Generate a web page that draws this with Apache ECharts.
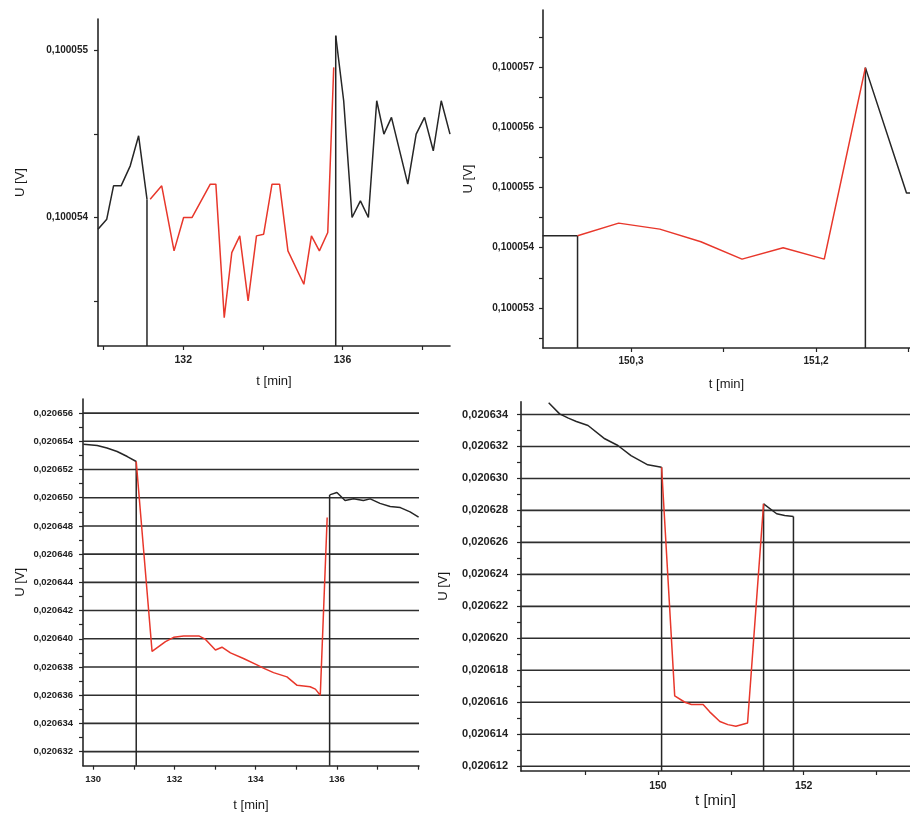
<!DOCTYPE html>
<html>
<head>
<meta charset="utf-8">
<script src="https://cdn.jsdelivr.net/npm/echarts@6/dist/echarts.min.js"></script>
<style>
  html, body { margin: 0; padding: 0; background: #ffffff; }
  #chart { width: 910px; height: 817px; }
</style>
</head>
<body>
<div id="chart"></div>
<script>
// ---- Panel A: 0.1 V channel, run around 130-138 min ----
const aTimeBefore = [129.86, 130.08, 130.25, 130.44, 130.67, 130.88, 131.09];
const aVoltBefore = [0.10005393, 0.10005399, 0.10005419, 0.10005419, 0.10005431, 0.10005449, 0.10005411];
const aTimeLoad = [131.17, 131.46, 131.77, 132.01, 132.22, 132.68, 132.82, 133.03, 133.22, 133.42, 133.63,
                   133.84, 134.02, 134.23, 134.42, 134.63, 135.03, 135.22, 135.42, 135.63, 135.78];
const aVoltLoad = [0.10005411, 0.10005419, 0.10005380, 0.10005400, 0.10005400, 0.10005420, 0.10005420,
                   0.10005340, 0.10005379, 0.10005389, 0.10005350, 0.10005389, 0.10005390, 0.10005420,
                   0.10005420, 0.10005380, 0.10005360, 0.10005389, 0.10005380, 0.10005391, 0.10005490];
const aTimeAfter = [135.83, 136.03, 136.24, 136.45, 136.65, 136.86, 137.04, 137.23, 137.64, 137.85, 138.06, 138.28, 138.48, 138.70];
const aVoltAfter = [0.10005509, 0.10005470, 0.10005400, 0.10005410, 0.10005400, 0.10005470, 0.10005450,
                    0.10005460, 0.10005420, 0.10005450, 0.10005460, 0.10005440, 0.10005470, 0.10005450];
const aSwitchTimes = [131.09, 135.83];
const aSwitchVolts = [0.10005411, 0.10005509];
const aXTicks = [130, 132, 134, 136, 138];
const aXLabels = [132, 136];
const aYTicks = [0.1000535, 0.100054, 0.1000545, 0.100055];
const aYLabels = [0.100054, 0.100055];

// ---- Panel B: 0.1 V channel, run around 150-151.6 min ----
const bTimeBefore = [149.87, 150.04];
const bVoltBefore = [0.1000542, 0.1000542];
const bTimeLoad = [150.04, 150.24, 150.44, 150.64, 150.84, 151.04, 151.24, 151.44];
const bVoltLoad = [0.1000542, 0.10005441, 0.10005431, 0.1000541, 0.10005381, 0.100054, 0.10005381, 0.100057];
const bTimeAfter = [151.44, 151.64, 151.66];
const bVoltAfter = [0.100057, 0.10005491, 0.10005491];
const bSwitchTimes = [150.04, 151.44];
const bSwitchVolts = [0.1000542, 0.100057];
const bXTicks = [150.3, 150.75, 151.2, 151.65];
const bXLabels = [150.3, 151.2];
const bYTicks = [0.1000525, 0.100053, 0.1000535, 0.100054, 0.1000545, 0.100055, 0.1000555, 0.100056, 0.1000565, 0.100057, 0.1000575];
const bYLabels = [0.100053, 0.100054, 0.100055, 0.100056, 0.100057];

// ---- Panel C: 0.02 V channel, run around 130-138 min ----
const cTimeBefore = [129.76, 130.10, 130.34, 130.59, 130.84, 131.06];
const cVoltBefore = [0.0206538, 0.0206537, 0.02065352, 0.02065328, 0.02065292, 0.02065257];
const cTimeLoad = [131.06, 131.45, 131.78, 131.98, 132.23, 132.60, 132.76, 133.01, 133.17, 133.38,
                   133.70, 134.07, 134.19, 134.44, 134.77, 135.02, 135.34, 135.47, 135.59, 135.76];
const cVoltLoad = [0.02065257, 0.0206391, 0.0206398, 0.0206401, 0.0206402, 0.0206402, 0.02063997,
                   0.0206392, 0.0206394, 0.0206390, 0.0206386, 0.0206381, 0.02063792, 0.0206376,
                   0.0206373, 0.0206367, 0.0206366, 0.02063643, 0.0206360, 0.0206486];
const cTimeAfter = [135.82, 136.00, 136.20, 136.41, 136.65, 136.82, 137.06, 137.31, 137.56, 137.80, 138.01];
const cVoltAfter = [0.0206502, 0.02065037, 0.0206498, 0.02064992, 0.0206498, 0.02064992,
                    0.0206496, 0.02064938, 0.0206493, 0.0206490, 0.02064862];
const cSwitchTimes = [131.06, 135.82];
const cSwitchVolts = [0.02065257, 0.0206502];
const cXTicks = [130, 131, 132, 133, 134, 135, 136, 137, 138];
const cXLabels = [130, 132, 134, 136];
const cYTicks = [0.020632, 0.020633, 0.020634, 0.020635, 0.020636, 0.020637, 0.020638, 0.020639, 0.020640,
                 0.020641, 0.020642, 0.020643, 0.020644, 0.020645, 0.020646, 0.020647, 0.020648, 0.020649,
                 0.020650, 0.020651, 0.020652, 0.020653, 0.020654, 0.020655, 0.020656];
const cYLabels = [0.020632, 0.020634, 0.020636, 0.020638, 0.020640, 0.020642, 0.020644,
                  0.020646, 0.020648, 0.020650, 0.020652, 0.020654, 0.020656];

// ---- Panel D: 0.02 V channel, run around 150-152 min ----
const dTimeBefore = [148.50, 148.65, 148.77, 148.88, 149.04, 149.27, 149.45, 149.63, 149.86, 150.05];
const dVoltBefore = [0.02063473, 0.02063404, 0.02063377, 0.02063356, 0.02063331, 0.02063248,
                     0.02063206, 0.02063143, 0.02063085, 0.0206307];
const dTimeLoad = [150.05, 150.23, 150.37, 150.46, 150.62, 150.71, 150.85, 150.96, 151.07, 151.23, 151.45];
const dVoltLoad = [0.0206307, 0.0206164, 0.0206160, 0.02061586, 0.02061586, 0.0206154, 0.0206148,
                   0.0206146, 0.0206145, 0.0206147, 0.02062841];
const dTimeAfter = [151.45, 151.63, 151.74, 151.86];
const dVoltAfter = [0.02062841, 0.02062779, 0.02062768, 0.02062762];
const dSwitchTimes = [150.05, 151.45, 151.86];
const dSwitchVolts = [0.0206307, 0.02062841, 0.02062762];
const dXTicks = [149, 150, 151, 152, 153];
const dXLabels = [150, 152];
const dYTicks = [0.020612, 0.020613, 0.020614, 0.020615, 0.020616, 0.020617, 0.020618, 0.020619, 0.020620,
                 0.020621, 0.020622, 0.020623, 0.020624, 0.020625, 0.020626, 0.020627, 0.020628, 0.020629,
                 0.020630, 0.020631, 0.020632, 0.020633, 0.020634];
const dYLabels = [0.020612, 0.020614, 0.020616, 0.020618, 0.020620, 0.020622, 0.020624,
                  0.020626, 0.020628, 0.020630, 0.020632, 0.020634];

const INK = '#262626';
const RED = '#e8372b';
const FONT = '"Liberation Sans", Arial, sans-serif';

const fmtVolt = v => v.toFixed(6).replace('.', ',');
const fmtInt = v => String(Math.round(v));
const fmtTenth = v => v.toFixed(1).replace('.', ',');

const panels = [
  {
    grid: { left: 98, top: 19, width: 352, height: 327 },
    x: { min: 129.86, max: 138.70, ticks: aXTicks, labels: aXLabels, fmt: fmtInt, size: 10.5, margin: 9, nameGap: 29, nameSize: 13 },
    y: { min: 0.10005323, max: 0.10005519, ticks: aYTicks, labels: aYLabels, size: 10, margin: 10, nameGap: 71, nameSize: 13 },
    before: [aTimeBefore, aVoltBefore], load: [aTimeLoad, aVoltLoad], after: [aTimeAfter, aVoltAfter],
    switches: [aSwitchTimes, aSwitchVolts], gridValues: null
  },
  {
    grid: { left: 543, top: 10, width: 367, height: 338 },
    x: { min: 149.872, max: 151.657, ticks: bXTicks, labels: bXLabels, fmt: fmtTenth, size: 10, margin: 8, nameGap: 30, nameSize: 13 },
    y: { min: 0.10005233, max: 0.10005796, ticks: bYTicks, labels: bYLabels, size: 10, margin: 9, nameGap: 68, nameSize: 13 },
    before: [bTimeBefore, bVoltBefore], load: [bTimeLoad, bVoltLoad], after: [bTimeAfter, bVoltAfter],
    switches: [bSwitchTimes, bSwitchVolts], gridValues: null
  },
  {
    grid: { left: 83, top: 399, width: 336, height: 366.7 },
    x: { min: 129.75, max: 138.02, ticks: cXTicks, labels: cXLabels, fmt: fmtInt, size: 9.5, margin: 9, nameGap: 33, nameSize: 13 },
    y: { min: 0.020631, max: 0.020657, ticks: cYTicks, labels: cYLabels, size: 9.5, margin: 10, nameGap: 56, nameSize: 13 },
    before: [cTimeBefore, cVoltBefore], load: [cTimeLoad, cVoltLoad], after: [cTimeAfter, cVoltAfter],
    switches: [cSwitchTimes, cSwitchVolts], gridValues: cYLabels
  },
  {
    grid: { left: 521, top: 401.7, width: 389, height: 369.3 },
    x: { min: 148.12, max: 153.46, ticks: dXTicks, labels: dXLabels, fmt: fmtInt, size: 10.5, margin: 10, nameGap: 21, nameSize: 15 },
    y: { min: 0.0206117, max: 0.0206348, ticks: dYTicks, labels: dYLabels, size: 11, margin: 13, nameGap: 71, nameSize: 13 },
    before: [dTimeBefore, dVoltBefore], load: [dTimeLoad, dVoltLoad], after: [dTimeAfter, dVoltAfter],
    switches: [dSwitchTimes, dSwitchVolts], gridValues: dYLabels
  }
];

const pairs = (ts, vs) => ts.map((t, i) => [t, vs[i]]);

const grids = [], xAxes = [], yAxes = [], series = [];

panels.forEach((p, i) => {
  grids.push(Object.assign({ containLabel: false }, p.grid));

  xAxes.push({
    type: 'value', gridIndex: i, min: p.x.min, max: p.x.max,
    name: 't [min]', nameLocation: 'middle', nameGap: p.x.nameGap,
    nameTextStyle: { color: '#1a1a1a', fontSize: p.x.nameSize, fontFamily: FONT },
    axisLine: { show: true, onZero: false, lineStyle: { color: INK, width: 1.6 } },
    axisTick: { show: true, length: 4, customValues: p.x.ticks, lineStyle: { color: INK, width: 1.2 } },
    axisLabel: { customValues: p.x.labels, formatter: p.x.fmt, color: '#222', fontSize: p.x.size,
                 fontWeight: 'bold', fontFamily: FONT, margin: p.x.margin },
    splitLine: { show: false }
  });

  yAxes.push({
    type: 'value', gridIndex: i, min: p.y.min, max: p.y.max,
    name: 'U [V]', nameLocation: 'middle', nameRotate: 90, nameGap: p.y.nameGap,
    nameTextStyle: { color: '#1a1a1a', fontSize: p.y.nameSize, fontFamily: FONT },
    axisLine: { show: true, onZero: false, lineStyle: { color: INK, width: 1.6 } },
    axisTick: { show: true, length: 4, customValues: p.y.ticks, lineStyle: { color: INK, width: 1.2 } },
    axisLabel: { customValues: p.y.labels, formatter: fmtVolt, color: '#222', fontSize: p.y.size,
                 fontWeight: 'bold', fontFamily: FONT, margin: p.y.margin },
    splitLine: { show: false }
  });

  const base = { type: 'line', xAxisIndex: i, yAxisIndex: i, symbol: 'none', silent: true,
                 animation: false, clip: true };

  // Horizontal reference lines at the labelled voltages, across the whole time span
  if (p.gridValues) {
    p.gridValues.forEach(v => {
      series.push(Object.assign({}, base, {
        data: [[p.x.min, v], [p.x.max, v]], z: 1,
        lineStyle: { color: '#2e2e2e', width: 1.6 }
      }));
    });
  }

  // Switching instants: vertical strokes from the time axis up to the reading
  p.switches[0].forEach((t, k) => {
    series.push(Object.assign({}, base, {
      data: [[t, p.y.min], [t, p.switches[1][k]]], z: 2,
      lineStyle: { color: INK, width: 1.5 }
    }));
  });

  series.push(Object.assign({}, base, {
    data: pairs(p.before[0], p.before[1]), z: 3, lineStyle: { color: INK, width: 1.5 }
  }));
  series.push(Object.assign({}, base, {
    data: pairs(p.after[0], p.after[1]), z: 3, lineStyle: { color: INK, width: 1.5 }
  }));
  series.push(Object.assign({}, base, {
    data: pairs(p.load[0], p.load[1]), z: 4, lineStyle: { color: RED, width: 1.5 }
  }));
});

const chart = echarts.init(document.getElementById('chart'), null, { renderer: 'canvas' });
chart.setOption({
  backgroundColor: '#ffffff',
  animation: false,
  grid: grids,
  xAxis: xAxes,
  yAxis: yAxes,
  series: series
});
</script>
</body>
</html>
